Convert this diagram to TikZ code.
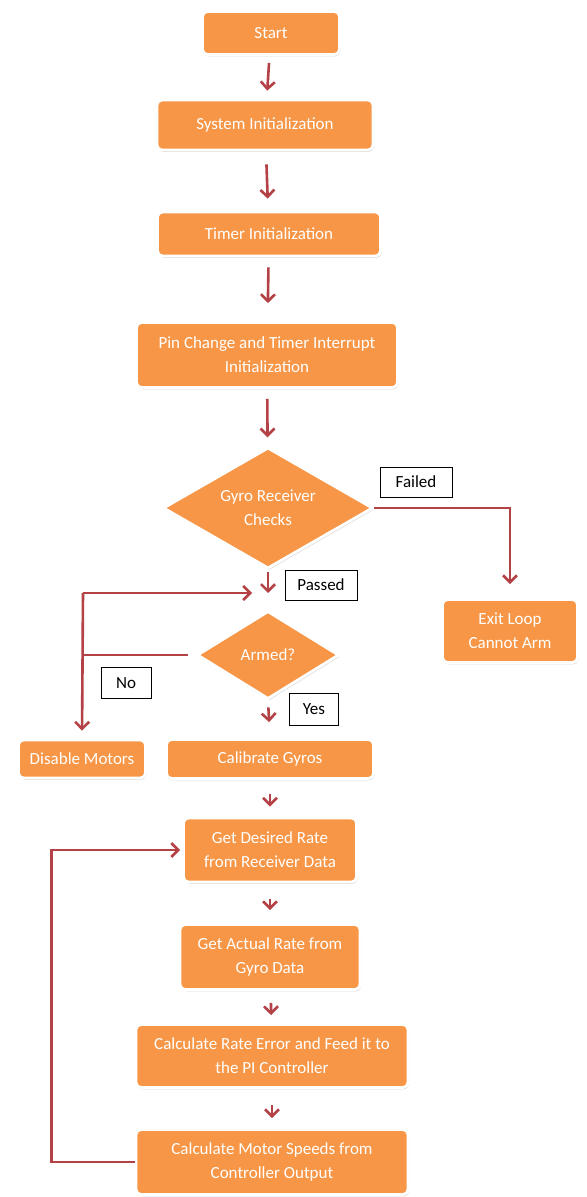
\documentclass[tikz,border=0pt]{standalone}
\usepackage{fontspec}
\setmainfont{Carlito}
\usetikzlibrary{shapes.geometric,arrows.meta,shadows}

\definecolor{boxorange}{RGB}{247,150,70}
\definecolor{flowred}{RGB}{180,65,70}

\begin{document}
\begin{tikzpicture}[x=0.5pt, y=-0.5pt,
        box/.style={rectangle, rounded corners=2.5pt, fill=boxorange, draw=white, line width=1.4pt,
            text=white, align=center, inner sep=1pt, font=\fontsize{8.5}{12}\selectfont,
            drop shadow={shadow xshift=0.5pt, shadow yshift=-0.9pt, opacity=0.3}},
        decision/.style={diamond, aspect=1.7, fill=boxorange, draw=white, line width=1.4pt, text=white,
            align=center, inner sep=0pt, font=\fontsize{8.5}{12}\selectfont,
            drop shadow={shadow xshift=0.5pt, shadow yshift=-0.9pt, opacity=0.3}},
        tag/.style={rectangle, draw=black, fill=white, line width=0.5pt, inner sep=1pt,
            font=\fontsize{8.5}{12}\selectfont},
        flow/.style={draw=flowred, line width=1.3pt, -{Straight Barb[length=3.5pt,width=7pt]}},
        plain/.style={draw=flowred, line width=1.3pt}]
    \useasboundingbox (0,0) rectangle (586,1197);
    \begin{scope}[every node/.style={box}]
        \node [minimum width=68.5pt, minimum height=21.5pt] (start) at (271,33) {Start};
        \node [minimum width=108pt, minimum height=25pt] (sysinit) at (265,125) {System Initialization};
        \node [minimum width=111.5pt, minimum height=22pt] (timerinit) at (269,234) {Timer Initialization};
        \node [minimum width=130.5pt, minimum height=32.5pt] (pininit) at (267,355) {Pin Change and Timer Interrupt\\Initialization};
        \node [minimum width=67.5pt, minimum height=31.5pt] (exitloop) at (510,631) {Exit Loop\\Cannot Arm};
        \node [minimum width=63.5pt, minimum height=19pt] (disable) at (82,759) {Disable Motors};
        \node [minimum width=103.5pt, minimum height=19.5pt] (calib) at (270,759) {Calibrate Gyros};
        \node [minimum width=86.5pt, minimum height=32pt] (desired) at (270,850) {Get Desired Rate\\from Receiver Data};
        \node [minimum width=90pt, minimum height=32.5pt] (actual) at (270,957) {Get Actual Rate from\\Gyro Data};
        \node [minimum width=136pt, minimum height=31.5pt] (rateerr) at (272,1056) {Calculate Rate Error and Feed it to\\the PI Controller};
        \node [minimum width=136pt, minimum height=32.5pt] (motorspd) at (272,1162) {Calculate Motor Speeds from\\Controller Output};
    \end{scope}
    \begin{scope}[every node/.style={decision}]
        \node [minimum width=105pt, minimum height=60.5pt] (gyrochk) at (268,508) {Gyro Receiver\\Checks};
        \node [minimum width=71pt, minimum height=44pt] (armed) at (268,655) {Armed?};
    \end{scope}
    \begin{scope}[every node/.style={tag}]
        \node [minimum width=36pt, minimum height=15pt] (failed) at (416,482) {Failed};
        \node [minimum width=36pt, minimum height=15pt] (passed) at (321,585) {Passed};
        \node [minimum width=25pt, minimum height=15.5pt] (no) at (126,683) {No};
        \node [minimum width=24.5pt, minimum height=16pt] (yes) at (314,709) {Yes};
    \end{scope}
    \coordinate (merge) at (268,593);
    \coordinate (turn) at (83,593);
    \begin{scope}[every path/.style={flow}]
        \path (start) edge [shorten <=3.5pt, shorten >=4pt] (sysinit);
        \path (sysinit) edge [shorten <=6.5pt, shorten >=6pt] (timerinit);
        \path (timerinit) edge [shorten <=5pt, shorten >=9pt] (pininit);
        \path (pininit) edge [shorten <=5pt, shorten >=4.5pt] (gyrochk);
        \path (calib) edge [shorten <=7pt, shorten >=5pt] (desired);
        \path (desired) edge [shorten <=8pt, shorten >=6.5pt] (actual);
        \path (actual) edge [shorten <=6pt, shorten >=4pt] (rateerr);
        \path (rateerr) edge [shorten <=8pt, shorten >=5pt] (motorspd);
    \end{scope}
    \draw [flow, shorten <=1pt] (gyrochk.south) -- (merge);
    \draw [flow, shorten <=3.5pt, shorten >=8pt] (armed.south) -- (calib.north);
    \draw [flow, shorten >=7pt] (gyrochk.east) -| (exitloop.north);
    \draw [flow, shorten >=8pt] (turn) -- (merge);
    \draw [flow, shorten >=4pt] (turn) -- (disable.north);
    \draw [flow, shorten >=1pt] (motorspd.west) -- ++(-83,0) |- (desired.west);
    \draw [plain, shorten <=4pt] (armed.west) -- (armed.west -| turn);
\end{tikzpicture}
\end{document}
